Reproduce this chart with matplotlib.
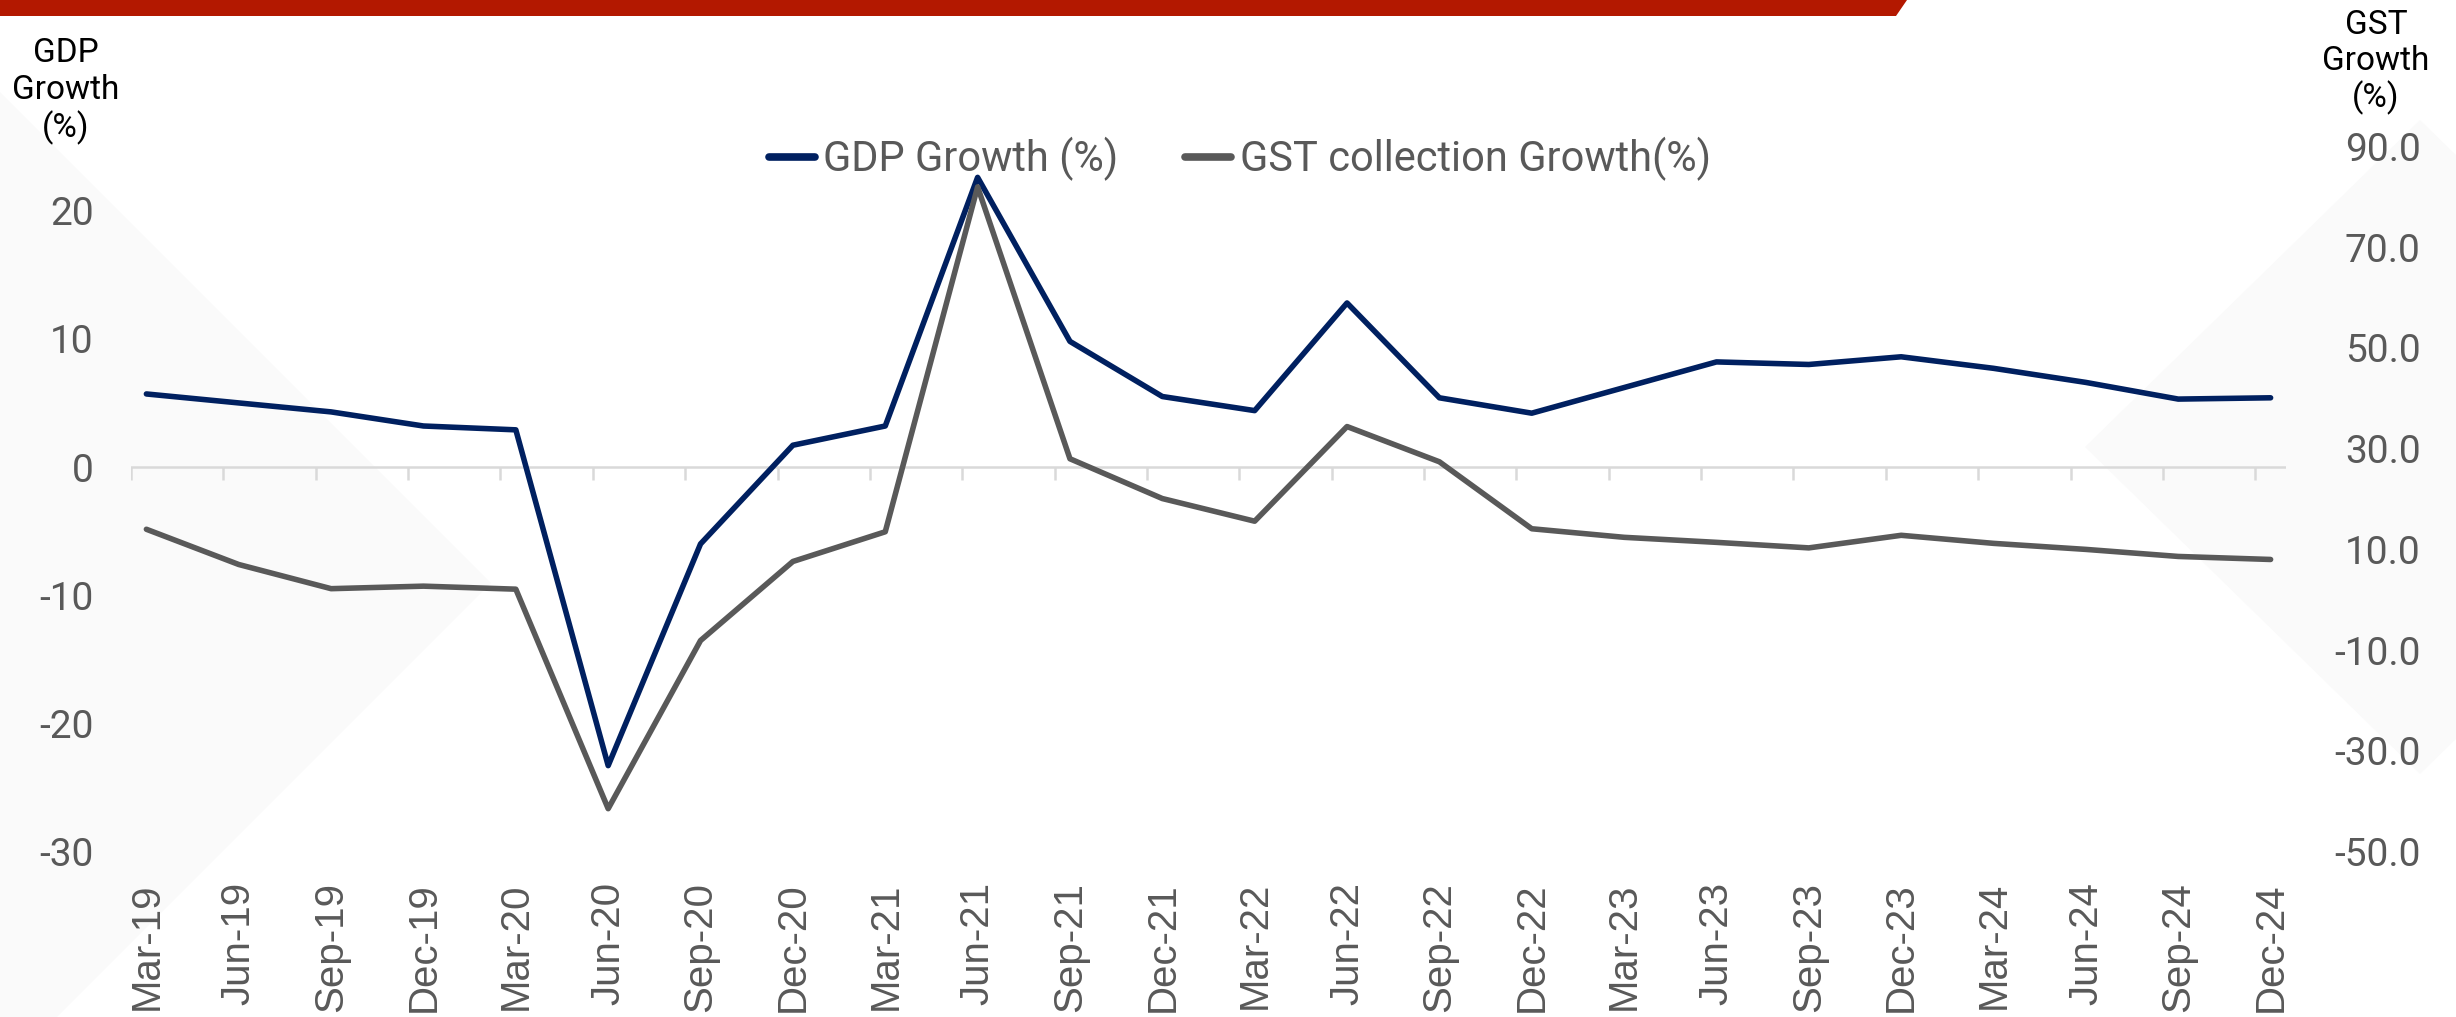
import numpy as np
import matplotlib
matplotlib.use("Agg")
import matplotlib.pyplot as plt
from matplotlib.patches import Polygon
from matplotlib.lines import Line2D

# ---------------- data ----------------
quarters = ["Mar-19", "Jun-19", "Sep-19", "Dec-19",
            "Mar-20", "Jun-20", "Sep-20", "Dec-20",
            "Mar-21", "Jun-21", "Sep-21", "Dec-21",
            "Mar-22", "Jun-22", "Sep-22", "Dec-22",
            "Mar-23", "Jun-23", "Sep-23", "Dec-23",
            "Mar-24", "Jun-24", "Sep-24", "Dec-24"]
gdp_growth = [5.7, 5.0, 4.3, 3.2,
              2.9, -23.3, -6.0, 1.7,
              3.2, 22.6, 9.8, 5.5,
              4.4, 12.8, 5.4, 4.2,
              6.2, 8.2, 8.0, 8.6,
              7.7, 6.6, 5.3, 5.4]
gst_growth = [14.0, 7.0, 2.2, 2.7,
              2.1, -41.5, -8.1, 7.6,
              13.5, 82.0, 28.0, 20.1,
              15.6, 34.4, 27.4, 14.1,
              12.4, 11.4, 10.3, 12.8,
              11.2, 10.0, 8.6, 8.0]
gdp_ticks = [-30, -20, -10, 0, 10, 20]
gst_ticks = [-50, -30, -10, 10, 30, 50, 70, 90]
series_names = ["GDP Growth (%)", "GST collection Growth(%)"]

NAVY = "#002060"
GREY = "#595959"
TICK = "#595959"
AXIS = "#d9d9d9"

plt.rcParams["font.family"] = ["Roboto", "DejaVu Sans"]

W, H = 2456, 1017
fig = plt.figure(figsize=(W / 100, H / 100), dpi=100)
fig.patch.set_facecolor("white")


def fx(px):
    return px / W


def fy(py):
    return 1 - py / H


# faint background diamonds (behind everything)
for verts in [
    [(-500, 583), (0, 92), (491, 583), (0, 1074)],
    [(2085, 447), (2420, 120), (2756, 447), (2420, 774)],
]:
    fig.patches.append(Polygon([(fx(a), fy(b)) for a, b in verts], closed=True,
                               transform=fig.transFigure, facecolor="#fafafa",
                               edgecolor="none", zorder=-10))

# red banner at top
fig.patches.append(Polygon([(fx(0), fy(0)), (fx(1907), fy(0)), (fx(1896), fy(16)), (fx(0), fy(16))],
                           closed=True, transform=fig.transFigure, facecolor="#b31800",
                           edgecolor="none", zorder=-5))

# ---------------- axes ----------------
x = np.arange(len(quarters)) * 3  # month index of each quarter
ax = fig.add_axes([fx(131), fy(851.5), fx(2286) - fx(131), fy(146.6) - fy(851.5)])
ax.patch.set_visible(False)
ax2 = ax.twinx()
ax2.patch.set_visible(False)

ax.set_xlim(-0.5, 69.5)
ax.set_ylim(-30, 25)
ax2.set_ylim(-50, 90)

for a in (ax, ax2):
    for s in a.spines.values():
        s.set_visible(False)

# category axis drawn at zero
ax.axhline(0, color=AXIS, lw=1.8, zorder=1)
ax.vlines(x - 0.5, -1.0, 0, colors=AXIS, lw=1.8, zorder=1)

ax.plot(x, gdp_growth, color=NAVY, lw=4.0, solid_capstyle="round", zorder=3)
ax2.plot(x, gst_growth, color=GREY, lw=4.0, solid_capstyle="round", zorder=3)

ax.set_yticks(gdp_ticks)
ax.set_yticklabels([str(v) for v in gdp_ticks])
ax.tick_params(axis="y", length=0, pad=27, labelsize=28, labelcolor=TICK)

ax.set_xticks(x)
ax.set_xticklabels(quarters, rotation=90, fontfamily="Liberation Sans",
                   fontsize=29, color=TICK)
ax.tick_params(axis="x", length=0, pad=22)

ax2.set_yticks(gst_ticks)
ax2.set_yticklabels([f"{v:.1f}" for v in gst_ticks])
ax2.tick_params(axis="y", length=0, pad=97, labelsize=28, labelcolor=TICK)
for lab in ax2.get_yticklabels():
    lab.set_horizontalalignment("right")

# axis titles
fig.text(fx(66), fy(91), "GDP\nGrowth\n(%)", ha="center", va="center",
         fontsize=24, linespacing=1.2, color="black")
fig.text(fx(2376), fy(62), "GST\nGrowth\n(%)", ha="center", va="center",
         fontsize=24, linespacing=1.15, color="black")

# legend
handles = [Line2D([], [], color=NAVY, lw=5.5, solid_capstyle="round"),
           Line2D([], [], color=GREY, lw=5.5, solid_capstyle="round")]
fig.legend(handles, series_names, loc="center", bbox_to_anchor=(fx(1240), fy(159)),
           ncol=2, frameon=False, fontsize=30, handlelength=1.1, handletextpad=0.2,
           columnspacing=1.6, labelcolor=TICK)

fig.savefig("out.png", dpi=100, facecolor="white")
